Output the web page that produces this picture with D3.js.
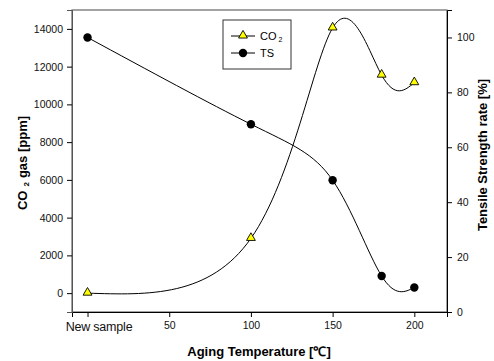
<!DOCTYPE html>
<html>
<head>
<meta charset="utf-8" />
<title>CO2 and tensile strength</title>
<style>
* {
    padding: 0;
    margin: 0;
}
body {
    background: #fff;
}
#graph {
    width: 494px;
    height: 361px;
}
text {
    font-family: "Liberation Sans", Arial, sans-serif;
}
</style>
</head>
<body>
<div id="graph"></div>
<script src="https://cdn.jsdelivr.net/npm/d3@7"></script>
<script>
    // data
    var temps = [0, 100, 150, 180, 200]
    var co2 = [0, 2900, 14050, 11550, 11150]
    var ts = [100, 68.4, 48, 13.1, 8.9]
    var xTicks = [0, 50, 100, 150, 200]
    var leftTicks = [0, 2000, 4000, 6000, 8000, 10000, 12000, 14000]
    var rightTicks = [0, 20, 40, 60, 80, 100]

    var width = 494, height = 361
    var margin = {top: 10, left: 72, bottom: 49, right: 47}
    var chartWidth = width - margin.left - margin.right
    var chartHeight = height - margin.top - margin.bottom

    var svg = d3.select("#graph").append("svg")
        .attr("width", width).attr("height", height)

    var g = svg.append("g")
        .attr("transform", "translate(" + margin.left + "," + margin.top + ")")

    var x = d3.scaleLinear().domain([-9.5, 220]).range([0, chartWidth])
    var yL = d3.scaleLinear().domain([-1000, 15000]).range([chartHeight, 0])
    var yR = d3.scaleLinear().domain([0, 110]).range([chartHeight, 0])

    // frame
    g.append("rect")
        .attr("width", chartWidth).attr("height", chartHeight)
        .attr("fill", "none").attr("stroke", "#666").attr("stroke-width", 1.2)

    function styleAxis(sel) {
        sel.selectAll("text").attr("font-size", "10.5px").attr("fill", "#111")
            .style("font-family", "'Liberation Sans', Arial, sans-serif")
        sel.selectAll("line").attr("stroke", "#000")
        sel.select(".domain").attr("stroke", "#000")
    }

    var xAxis = g.append("g")
        .attr("transform", "translate(0," + chartHeight + ")")
        .call(d3.axisBottom(x).tickValues(xTicks).tickSizeOuter(0).tickSize(5).tickPadding(5)
            .tickFormat(function(d) { return d === 0 ? "New sample" : d }))
        .call(styleAxis)
    // the "New sample" label sits a bit right of its tick and is larger
    xAxis.selectAll(".tick text").filter(function(d) { return d === 0 })
        .attr("font-size", "12.5px").attr("dx", 11).attr("letter-spacing", -0.2)

    g.append("g")
        .call(d3.axisLeft(yL).tickValues(leftTicks).tickSizeOuter(0).tickSize(5).tickPadding(4)
            .tickFormat(d3.format("d")))
        .call(styleAxis)
        .select(".domain").attr("stroke", "#555")

    g.append("g")
        .attr("transform", "translate(" + chartWidth + ",0)")
        .call(d3.axisRight(yR).tickValues(rightTicks).tickSizeOuter(0).tickSize(5).tickPadding(5))
        .call(styleAxis)

    // smooth curves through the points
    var lineL = d3.line().curve(d3.curveNatural)
        .x(function(d) { return x(d) }).y(function(d, i) { return yL(co2[i]) })
    var lineR = d3.line().curve(d3.curveNatural)
        .x(function(d) { return x(d) }).y(function(d, i) { return yR(ts[i]) })

    g.append("path")
        .attr("d", lineL(temps))
        .attr("fill", "none").attr("stroke", "#000").attr("stroke-width", 1)

    g.append("path")
        .attr("d", lineR(temps))
        .attr("fill", "none").attr("stroke", "#000").attr("stroke-width", 1)

    var tri = d3.symbol().type(d3.symbolTriangle).size(34)

    g.selectAll(".ts").data(temps).enter().append("circle")
        .attr("cx", function(d) { return x(d) })
        .attr("cy", function(d, i) { return yR(ts[i]) })
        .attr("r", 4.2)
        .attr("fill", "#000")

    g.selectAll(".co2").data(temps).enter().append("path")
        .attr("d", tri)
        .attr("transform", function(d, i) { return "translate(" + x(d) + "," + (yL(co2[i]) - 0.5) + ")" })
        .attr("fill", "#ffff00").attr("stroke", "#000").attr("stroke-width", 0.9)

    // legend
    var lg = svg.append("g").attr("transform", "translate(223,20)")
    lg.append("rect").attr("width", 68).attr("height", 49)
        .attr("fill", "#fff").attr("stroke", "#333").attr("stroke-width", 1)
    lg.append("line").attr("x1", 8).attr("x2", 32).attr("y1", 16).attr("y2", 16).attr("stroke", "#000")
    lg.append("path").attr("d", tri).attr("transform", "translate(20,15.5)")
        .attr("fill", "#ffff00").attr("stroke", "#000").attr("stroke-width", 0.9)
    lg.append("line").attr("x1", 8).attr("x2", 32).attr("y1", 33).attr("y2", 33).attr("stroke", "#000")
    lg.append("circle").attr("cx", 20).attr("cy", 33).attr("r", 4.2).attr("fill", "#000")
    var t1 = lg.append("text").attr("x", 37).attr("y", 20).attr("font-size", "11px")
    t1.append("tspan").text("CO")
    t1.append("tspan").attr("font-size", "7px").attr("dx", 2).attr("dy", 2).text("2")
    lg.append("text").attr("x", 37).attr("y", 37).attr("font-size", "11px").text("TS")

    // axis titles
    svg.append("text")
        .attr("x", 259).attr("y", 356)
        .attr("text-anchor", "middle").attr("font-size", "13px").attr("font-weight", "bold")
        .text("Aging Temperature [\u2103]")

    var lt = svg.append("text")
        .attr("transform", "translate(26.5,163) rotate(-90)")
        .attr("text-anchor", "middle").attr("font-size", "13px").attr("font-weight", "bold")
    lt.append("tspan").text("CO")
    lt.append("tspan").attr("font-size", "8px").attr("dx", 4).attr("dy", 2).text("2")
    lt.append("tspan").attr("dx", 4).attr("dy", -2).text("gas [ppm]")

    svg.append("text")
        .attr("transform", "translate(486.5,155) rotate(-90)")
        .attr("text-anchor", "middle").attr("font-size", "13px").attr("font-weight", "bold")
        .text("Tensile Strength rate [%]")
</script>
</body>
</html>
